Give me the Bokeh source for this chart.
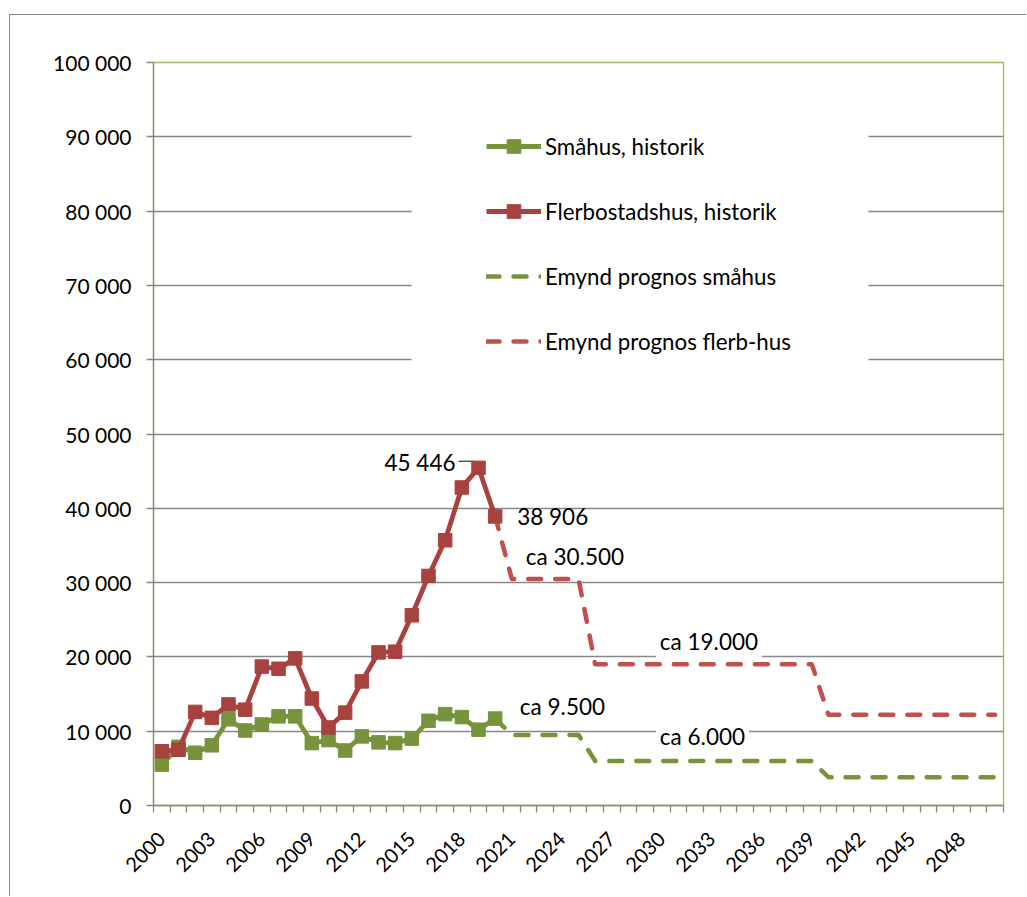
from math import pi

from bokeh.plotting import figure
from bokeh.models import (FixedTicker, Label, Legend, LegendItem, BoxAnnotation, Range1d)
from bokeh.embed import file_html
from bokeh.resources import INLINE

# Completed dwellings per year, 2000-2020
hist_years = [2000, 2001, 2002, 2003, 2004, 2005, 2006, 2007, 2008, 2009, 2010,
              2011, 2012, 2013, 2014, 2015, 2016, 2017, 2018, 2019, 2020]
smahus_hist = [5500, 7900, 7100, 8100, 11600, 10100, 10900, 12000, 12000, 8400, 8800,
               7400, 9300, 8500, 8400, 9000, 11400, 12300, 11900, 10200, 11700]
flerbostad_hist = [7300, 7500, 12600, 11800, 13600, 12900, 18700, 18400, 19800, 14400, 10500,
                   12500, 16700, 20600, 20700, 25600, 30900, 35700, 42800, 45446, 38906]

# Forecast, 2020-2050
prog_years = [2020, 2021, 2022, 2023, 2024, 2025, 2026, 2027, 2028, 2029, 2030,
              2031, 2032, 2033, 2034, 2035, 2036, 2037, 2038, 2039, 2040,
              2041, 2042, 2043, 2044, 2045, 2046, 2047, 2048, 2049, 2050]
smahus_prog = [11700, 9500, 9500, 9500, 9500, 9500, 6000, 6000, 6000, 6000, 6000,
               6000, 6000, 6000, 6000, 6000, 6000, 6000, 6000, 6000, 3800,
               3800, 3800, 3800, 3800, 3800, 3800, 3800, 3800, 3800, 3800]
flerbostad_prog = [38906, 30500, 30500, 30500, 30500, 30500, 19000, 19000, 19000, 19000, 19000,
                   19000, 19000, 19000, 19000, 19000, 19000, 19000, 19000, 19000, 12200,
                   12200, 12200, 12200, 12200, 12200, 12200, 12200, 12200, 12200, 12200]

all_years = list(range(2000, 2051))
label_years = [2000, 2003, 2006, 2009, 2012, 2015, 2018, 2021, 2024,
               2027, 2030, 2033, 2036, 2039, 2042, 2045, 2048]
y_ticks = [0, 10000, 20000, 30000, 40000, 50000, 60000, 70000, 80000, 90000, 100000]

GREEN = "#77933C"
RED = "#A8423F"
RED_PROG = "#C0504D"
GRID = "#878787"
FONT = "Lato"


def sv(n):
    return f"{n:,}".replace(",", " ")


def ca(n):
    return "ca " + f"{n:,}".replace(",", ".")


p = figure(width=1017, height=882,
           x_range=Range1d(all_years[0] - 0.5, all_years[-1] + 0.5),
           y_range=Range1d(y_ticks[0], y_ticks[-1]),
           output_backend="svg", toolbar_location=None,
           min_border_left=143, min_border_right=24,
           min_border_top=47, min_border_bottom=92)
# chart-area border (top and left edges)
p.margin = (14, 0, 0, 9)
p.styles = {"border-left": f"1px solid {GRID}", "border-top": f"1px solid {GRID}"}
p.background_fill_color = "white"
p.border_fill_color = "white"
p.outline_line_color = "#9BBB59"
p.outline_line_width = 1.3

# x axis: ticks between years, labels every third year
p.xaxis.ticker = FixedTicker(ticks=label_years,
                             minor_ticks=[y - 0.5 for y in all_years + [all_years[-1] + 1]])
p.xaxis.major_label_overrides = {y: str(y) for y in label_years}
p.xaxis.major_label_orientation = pi / 4
p.xaxis.major_tick_line_color = None
p.xaxis.major_tick_out = 7
p.xaxis.major_tick_in = 0
p.xaxis.minor_tick_line_color = GRID
p.xaxis.minor_tick_line_width = 1.3
p.xaxis.minor_tick_out = 7
p.xaxis.minor_tick_in = 0
p.xaxis.major_label_standoff = 23
p.xaxis.axis_line_color = GRID
p.xaxis.axis_line_width = 1.3
p.xaxis.major_label_text_font = FONT
p.xaxis.major_label_text_font_size = "20px"
p.xaxis.major_label_text_color = "black"

# y axis
p.yaxis.ticker = FixedTicker(ticks=y_ticks)
p.yaxis.major_label_overrides = {t: sv(t) for t in y_ticks}
p.yaxis.major_tick_out = 7
p.yaxis.major_tick_in = 0
p.yaxis.major_tick_line_color = GRID
p.yaxis.major_tick_line_width = 1.3
p.yaxis.minor_tick_line_color = None
p.yaxis.axis_line_color = GRID
p.yaxis.axis_line_width = 1.3
p.yaxis.major_label_standoff = 15
p.yaxis.major_label_text_font = FONT
p.yaxis.major_label_text_font_size = "21px"
p.yaxis.major_label_text_color = "black"

p.xgrid.visible = False
p.ygrid.ticker = FixedTicker(ticks=y_ticks[1:-1])
p.ygrid.grid_line_color = GRID
p.ygrid.grid_line_width = 1.3

# forecasts
g_prog = p.line(prog_years, smahus_prog, line_color=GREEN, line_width=4.5,
                line_dash="13 14", line_cap="round", line_join="round")
r_prog = p.line(prog_years, flerbostad_prog, line_color=RED_PROG, line_width=4.5,
                line_dash="13 14", line_cap="round", line_join="round")

# leader line from the peak label
i_peak = flerbostad_hist.index(max(flerbostad_hist))
x_peak, y_peak = hist_years[i_peak], flerbostad_hist[i_peak]
p.line([x_peak - 1.2, x_peak - 0.3, x_peak], [y_peak + 890, y_peak + 890, y_peak + 100],
       line_color="black", line_width=1)

# history
g_line = p.line(hist_years, smahus_hist, line_color=GREEN, line_width=4.8, line_join="round")
g_sq = p.scatter(hist_years, smahus_hist, marker="square", size=13.5, fill_color=GREEN, line_color=GREEN)
r_line = p.line(hist_years, flerbostad_hist, line_color=RED, line_width=4.8, line_join="round")
r_sq = p.scatter(hist_years, flerbostad_hist, marker="square", size=13.5, fill_color=RED, line_color=RED)

# value labels
lab = dict(text_font=FONT, text_font_size="22.5px", text_color="black", text_baseline="middle")
p.add_layout(Label(x=x_peak, y=y_peak, text=sv(y_peak), x_offset=-23, y_offset=5.6,
                   text_align="right", **lab))
p.add_layout(Label(x=hist_years[-1], y=flerbostad_hist[-1], text=sv(flerbostad_hist[-1]),
                   x_offset=22, y_offset=0, text_align="left", **lab))
p.add_layout(Label(x=prog_years[1], y=flerbostad_prog[1], text=ca(flerbostad_prog[1]),
                   x_offset=14, y_offset=22, text_align="left", **lab))
p.add_layout(Label(x=prog_years[1], y=smahus_prog[1], text=ca(smahus_prog[1]),
                   x_offset=8, y_offset=28, text_align="left", **lab))
i30 = prog_years.index(2030)
p.add_layout(Label(x=prog_years[i30], y=flerbostad_prog[i30], text=ca(flerbostad_prog[i30]),
                   x_offset=-6, y_offset=23, text_align="left",
                   background_fill_color="white", background_fill_alpha=1.0, padding=4, **lab))
p.add_layout(Label(x=prog_years[i30], y=smahus_prog[i30], text=ca(smahus_prog[i30]),
                   x_offset=-6, y_offset=24, text_align="left",
                   background_fill_color="white", background_fill_alpha=1.0, padding=4, **lab))

# white panel behind the legend
p.add_layout(BoxAnnotation(left=400, right=857, top=83, bottom=380,
                           left_units="canvas", right_units="canvas",
                           top_units="canvas", bottom_units="canvas",
                           fill_color="white", fill_alpha=1.0, line_color=None))

legend = Legend(items=[
    LegendItem(label="Småhus, historik", renderers=[g_line, g_sq]),
    LegendItem(label="Flerbostadshus, historik", renderers=[r_line, r_sq]),
    LegendItem(label="Emynd prognos småhus", renderers=[g_prog]),
    LegendItem(label="Emynd prognos flerb-hus", renderers=[r_prog]),
], location=(333, 447), padding=0, spacing=31, glyph_width=55, glyph_height=34,
    label_standoff=4, label_text_font=FONT, label_text_font_size="22.3px",
    label_text_color="black", background_fill_color="white", background_fill_alpha=1.0,
    border_line_color=None)
p.add_layout(legend)

open("out.html", "w").write(file_html(p, INLINE))
